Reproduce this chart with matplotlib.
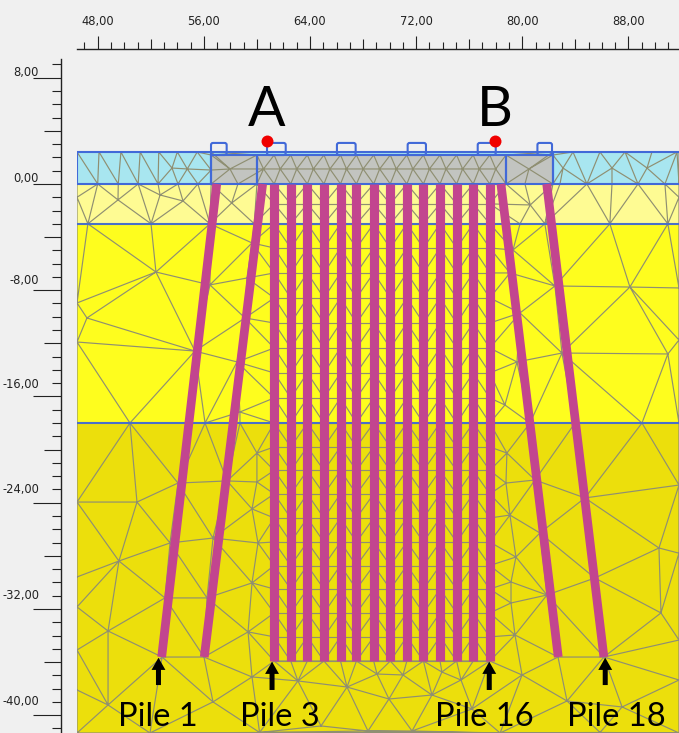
#!/usr/bin/env python3
# -*- coding: utf-8 -*-
# cross section of the piled quay, mesh and piles (metres)

import numpy as np
import matplotlib
matplotlib.use('Agg')
import matplotlib.pyplot as plt
import matplotlib.tri as mtri
from matplotlib.patches import FancyBboxPatch, Rectangle

# ruler ticks
x_major = [48, 56, 64, 72, 80, 88]
x_major_labels = ['48,00', '56,00', '64,00', '72,00', '80,00', '88,00']
x_medium = [52, 60, 68, 76, 84]
x_minor = [47, 49, 50, 51, 53, 54, 55, 57, 58, 59, 61, 62, 63, 65, 66, 67, 69, 70, 71, 73, 74, 75, 77, 78, 79,
           81, 82, 83, 85, 86, 87, 89, 90, 91]
y_major = [8, 0, -8, -16, -24, -32, -40]
y_major_labels = ['8,00', '0,00', '-8,00', '-16,00', '-24,00', '-32,00', '-40,00']
# the labels drift upward from their ticks in the screenshot
y_label_pos = [8.51, 0.53, -7.15, -14.98, -22.89, -30.87, -38.85]
y_medium = [4, -4, -12, -20, -28, -36]
y_minor = [9, 7, 6, 5, 3, 2, 1, -1, -2, -3, -5, -6, -7, -9, -10, -11, -13, -14, -15, -17, -18, -19, -21, -22, -23,
           -25, -26, -27, -29, -30, -31, -33, -34, -35, -37, -38, -39, -41]

# soil layers
water_top = 2.41
layer_tops = [water_top, 0.0, -3.0, -18.0]
layer_bottoms = [0.0, -3.0, -18.0, -42.0]
layer_colors = ['#a8e6f0', '#fefb93', '#fefd1e', '#ecdf0c']

# pile cap
cap_left = 56.55
cap_right = 82.31
cap_inner = [60.0, 78.77]
cap_top = 2.18
tab_left = [56.54, 60.76, 66.03, 71.36, 76.64, 81.14]
tab_right = [57.72, 62.17, 67.44, 72.74, 78.0, 82.24]
tab_top = 3.09

# piles
pile_x = [61.3, 62.55, 63.8, 65.05, 66.3, 67.5, 68.8, 70.05, 71.3, 72.55, 73.8, 75.05, 76.3, 77.55]
pile_bottom = -35.92
raked_top_x = [56.97, 60.43, 78.39, 81.84]
raked_bottom_x = [52.82, 56.03, 82.71, 86.15]
raked_bottom_y = -35.62

# structured mesh rows between the vertical piles
mesh_rows = [0, -1.5, -3.0, -4.82, -6.7, -8.58, -10.47, -12.35, -14.23, -16.11, -18.0, -19.8, -21.57, -23.34,
             -25.15, -26.96, -28.73, -30.5, -32.3, -34.1, -35.92]
cap_mid_x = [60.5, 61.75, 63.0, 64.25, 65.5, 66.75, 68.0, 69.25, 70.5, 71.75, 73.0, 74.25, 75.5, 76.75, 78.0]

# free mesh nodes
water_x = [46.44, 48.1, 49.75, 51.2, 52.6, 54.0, 55.5, 56.55, 46.44, 48.0, 49.55, 51.05, 52.55, 54.05, 55.55, 56.55,
           53.6, 54.75, 56.55, 57.97, 56.55, 60.0, 58.57, 60.0,
           82.31, 83.82, 85.85, 87.74, 89.77, 91.66, 91.81, 82.31, 82.84, 84.87, 86.76, 88.72, 90.75, 91.81,
           83.07, 86.76, 89.4, 78.77, 78.77, 80.2, 80.5, 82.31]
water_y = [2.41, 2.41, 2.41, 2.41, 2.41, 2.41, 2.41, 2.41, 0, 0, 0, 0, 0, 0, 0, 0,
           1.2, 1.13, 1.05, 1.13, 2.18, 2.18, 0, 0,
           2.41, 2.41, 2.41, 2.41, 2.41, 2.41, 2.41, 0, 0, 0, 0, 0, 0, 0,
           1.2, 1.2, 1.2, 0, 2.18, 0, 1.13, 2.18]
pale_x = [46.44, 47.26, 52.02, 56.46, 59.8, 49.53, 52.7, 54.43, 46.44, 58.1,
          86.6, 90.97, 91.81, 81.7, 79.83, 80.6, 91.81]
pale_y = [-3, -3, -3, -3, -3, -1.2, -0.83, -1.28, -1.0, -1.43,
          -3, -3, -3, -3, -3, -1.58, -1.0]
yellow_x = [52.39, 47.19, 46.44, 46.44, 55.33, 50.43, 46.44, 56.46, 59.25, 59.1, 58.5, 59.63, 56.09, 58.72, 58.72,
            88.11, 90.97, 89.02, 91.81, 91.81, 91.81, 82.46, 82.99, 79.83, 79.6, 79.3, 79.07, 80.58, 83.97, 78.69]
yellow_y = [-6.63, -10.09, -8.96, -11.9, -12.58, -18, -18, -7.6, -7.08, -10.09, -13.4, -4.44, -18, -18, -17.17,
            -7.76, -12.8, -18, -7.83, -11.75, -18, -7.68, -12.73, -9.71, -13.4, -4.97, -6.7, -18, -18, -16.64]
dark_x = [46.44, 50.96, 54.05, 57.75, 60.0, 60.0, 59.63, 60.08, 59.63, 49.6, 53.45, 56.69, 56.24, 53.07, 46.44,
          48.78, 46.44, 46.44, 59.33, 52.85, 56.01,
          59.63, 63.09, 66.79, 69.05, 71.01, 69.95, 73.19, 73.94, 75.38, 76.21, 64.83, 68.37, 71.69, 48.78, 56.69,
          46.44, 46.44, 51.94, 60.2, 79.98, 83.37, 87.52, 91.81, 78.33, 85.86, 91.81,
          91.81, 90.3, 90.45, 78.84, 78.77, 79.07, 79.52, 79.15, 79.15, 79.45, 80.96, 84.72, 85.47, 81.86, 81.33,
          91.81, 91.81, 82.69, 86.15]
dark_y = [-23.95, -23.95, -22.52, -22.36, -22.44, -20.26, -24.47, -27.03, -30.04, -28.39, -27.03, -26.66, -31.17,
          -31.17, -29.59, -33.66, -31.85, -35.09, -33.73, -35.62, -35.62,
          -37.12, -37.42, -37.88, -36.9, -36.97, -38.78, -38.48, -36.75, -37.35, -39.53, -40.81, -41.19, -41.19,
          -39.23, -39.0, -38.1, -41.34, -41.34, -41.3, -36.97, -38.93, -39.38, -37.35, -41.34, -41.3, -41.34,
          -22.67, -27.41, -32.3, -20.26, -22.52, -24.93, -28.09, -29.97, -31.55, -33.96, -22.29, -23.64, -29.67,
          -30.95, -26.28, -27.8, -34.34, -35.62, -35.62]

# annotations
point_x = [60.76, 77.92]
point_y = [3.23, 3.23]
point_names = ['A', 'B']
name_x = [60.7, 77.9]
name_y = [5.53, 5.53]
pile_names = ['Pile 1', 'Pile 3', 'Pile 16', 'Pile 18']
pile_name_x = [52.57, 61.7, 77.1, 87.1]
pile_name_y = -40.81
arrow_x = [52.58, 61.14, 77.51, 86.25]
arrow_tip = [-35.67, -35.97, -35.97, -35.67]
arrow_tail = [-37.73, -38.1, -38.1, -37.73]

background = '#f0f0f0'
blue = '#4169d8'
mesh_color = '#8f8f72'
pile_color = '#c2458f'
fig_w, fig_h = 679, 733
x_lim = (46.44, 91.81)
y_lim = (-41.34, 9.41)

fig = plt.figure(figsize=(6.79, 7.33), dpi=100, facecolor=background)
ax = fig.add_axes([77 / fig_w, 0, 602 / fig_w, 674 / fig_h], facecolor=background)
ax.set_xlim(*x_lim)
ax.set_ylim(*y_lim)
ax.set_xticks([])
ax.set_yticks([])
for side in ax.spines:
    ax.spines[side].set_visible(False)

# layers
for top, bottom, color in zip(layer_tops, layer_bottoms, layer_colors):
    ax.axhspan(bottom, top, color=color, lw=0, zorder=1)
ax.add_patch(Rectangle((cap_left, 0), cap_right - cap_left, cap_top, facecolor='#c2c4c0', edgecolor='none', zorder=1.5))

# free mesh, the block around the vertical piles is drawn separately
edge_rows = [y for y in mesh_rows for _ in (0, 1)]
edge_cols = [pile_x[0], pile_x[-1]] * len(mesh_rows)
node_x = np.array(water_x + pale_x + yellow_x + dark_x + edge_cols + pile_x[1:-1] + pile_x[1:-1] + pile_x + cap_mid_x)
node_y = np.array(water_y + pale_y + yellow_y + dark_y + edge_rows
                  + [0] * (len(pile_x) - 2) + [pile_bottom] * (len(pile_x) - 2)
                  + [cap_top] * len(pile_x) + [1.13] * len(cap_mid_x))
node_x, node_y = zip(*sorted(set(zip(node_x.tolist(), node_y.tolist()))))
tri = mtri.Triangulation(np.array(node_x), np.array(node_y))
cx = tri.x[tri.triangles].mean(axis=1)
cy = tri.y[tri.triangles].mean(axis=1)
in_block = (cx > pile_x[0]) & (cx < pile_x[-1]) & (cy < 0) & (cy > pile_bottom)
above_cap = (cx > cap_left) & (cx < cap_right) & (cy > cap_top)
tri.set_mask(in_block | above_cap)
ax.triplot(tri, color=mesh_color, lw=0.85, zorder=2)

# structured mesh
ax.hlines(mesh_rows[1:], pile_x[0], pile_x[-1], color=mesh_color, lw=0.85, zorder=2)
for i in range(len(pile_x) - 1):
    for j in range(len(mesh_rows) - 1):
        if i % 2 == 0:
            ax.plot([pile_x[i], pile_x[i + 1]], [mesh_rows[j], mesh_rows[j + 1]], color=mesh_color, lw=0.85, zorder=2)
        else:
            ax.plot([pile_x[i], pile_x[i + 1]], [mesh_rows[j + 1], mesh_rows[j]], color=mesh_color, lw=0.85, zorder=2)

# geometry lines
ax.hlines([water_top, 0], x_lim[0], x_lim[1], color=blue, lw=1.5, zorder=3)
ax.hlines([-3.0, -18.0], x_lim[0], x_lim[1], color='#4a70c8', lw=1.5, zorder=3)
ax.hlines(cap_top, cap_left, cap_right, color=blue, lw=1.5, zorder=3)
ax.vlines([cap_left, cap_right], 0, water_top, color=blue, lw=1.6, zorder=3)
ax.vlines(cap_inner, 0, cap_top, color=blue, lw=1.6, zorder=3)
ax.vlines(x_lim[0] + 0.03, 0, water_top, color=blue, lw=1.5, zorder=3)
for left, right in zip(tab_left, tab_right):
    ax.add_patch(FancyBboxPatch((left, cap_top), right - left, tab_top - cap_top,
                                boxstyle='round,pad=0,rounding_size=0.15', facecolor='none',
                                edgecolor=blue, lw=1.5, zorder=3))

# piles
for x in pile_x:
    ax.plot([x, x], [0, pile_bottom], color=pile_color, lw=6.6, solid_capstyle='butt', zorder=4)
for x0, x1 in zip(raked_top_x, raked_bottom_x):
    ax.plot([x0, x1], [0, raked_bottom_y], color=pile_color, lw=6.3, solid_capstyle='butt', zorder=4)

# points and labels
ax.plot(point_x, point_y, 'o', color='#f00000', ms=8.6, mew=0, zorder=5)
for x, y, name in zip(name_x, name_y, point_names):
    ax.text(x, y, name, family='Lato', fontsize=40, ha='center', va='center', color='black', zorder=6)
for x, name in zip(pile_name_x, pile_names):
    ax.text(x, pile_name_y, name, family='Lato', fontsize=23.5, ha='center', va='baseline', color='black', zorder=6)
for x, tip, tail in zip(arrow_x, arrow_tip, arrow_tail):
    ax.annotate('', xy=(x, tip), xytext=(x, tail), zorder=6,
                arrowprops=dict(facecolor='black', edgecolor='none', width=3.6, headwidth=10, headlength=8.8, shrink=0))

# rulers sit away from the plot
top_pos = 1 + (59 - 49.3) / 674
left_pos = -(77 - 61) / 602
rule_color = '#222222'

top = ax.secondary_xaxis(top_pos)
top.set_xticks(x_major, labels=x_major_labels)
top.set_xticks(x_minor, minor=True)
top.tick_params(axis='x', which='major', length=9.4, width=0.8, color=rule_color, pad=6, labelsize=8.3, labelcolor=rule_color)
top.tick_params(axis='x', which='minor', length=4.7, width=0.8, color=rule_color)
top.spines['top'].set_linewidth(1.0)
top.spines['top'].set_color(rule_color)
top_mid = ax.secondary_xaxis(top_pos)
top_mid.set_xticks(x_medium, labels=[''] * len(x_medium))
top_mid.tick_params(axis='x', which='major', length=7.2, width=0.8, color=rule_color)
top_mid.spines['top'].set_visible(False)

left = ax.secondary_yaxis(left_pos)
left.set_yticks(y_major, labels=[''] * len(y_major))
left.set_yticks(y_minor, minor=True)
left.tick_params(axis='y', which='major', length=20, width=0.8, color=rule_color)
left.tick_params(axis='y', which='minor', length=6.5, width=0.8, color=rule_color)
left.spines['left'].set_linewidth(1.0)
left.spines['left'].set_color(rule_color)
left_mid = ax.secondary_yaxis(left_pos)
left_mid.set_yticks(y_medium, labels=[''] * len(y_medium))
left_mid.tick_params(axis='y', which='major', length=12.2, width=0.8, color=rule_color)
left_mid.spines['left'].set_visible(False)
left_text = ax.secondary_yaxis(left_pos)
left_text.set_yticks(y_label_pos, labels=y_major_labels)
left_text.tick_params(axis='y', which='major', length=0, pad=15.8, labelsize=8.3, labelcolor=rule_color)
left_text.spines['left'].set_visible(False)

fig.savefig('out.png', dpi=100, facecolor=background)
